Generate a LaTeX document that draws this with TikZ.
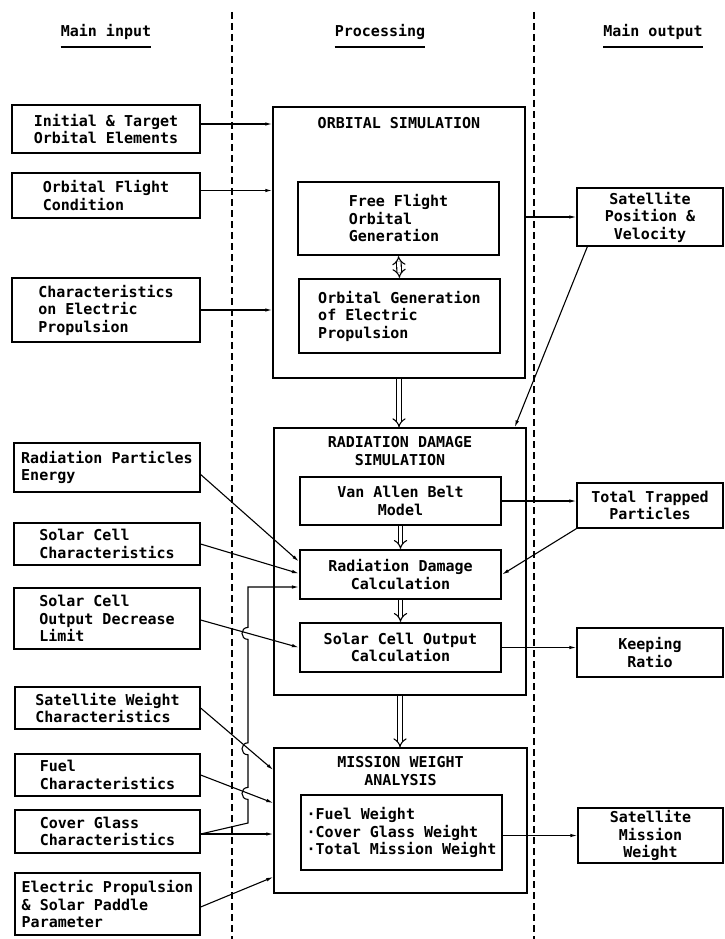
\documentclass[tikz,border=0pt]{standalone}
\usepackage{fontspec}
\setmainfont{DejaVu Sans Mono}
\usetikzlibrary{arrows.meta}
\begin{document}
\begin{tikzpicture}[x=1pt, y=-1pt,
    node font=\bfseries\fontsize{15}{17.5}\selectfont,
    inbox/.style={draw, line width=1.3pt, align=left, inner sep=0pt},
    outbox/.style={draw, line width=1.3pt, align=center, inner sep=0pt},
    procbox/.style={draw, line width=1.4pt, inner sep=0pt},
    subbox/.style={draw, line width=2.2pt, inner sep=0pt},
    flow/.style={line width=1.1pt, -{Latex[length=7pt, width=3.5pt]}},
    bigflow/.style={double, double distance=3.5pt, line width=1.1pt, -{Implies[scale=1.4]}},
    column/.style={line width=1.3pt, dash pattern=on 7pt off 4pt},
    head/.style={inner sep=0pt, anchor=base}]
\useasboundingbox (0,0) rectangle (724,939);

\draw[column] (232,12) -- (232,939);
\draw[column] (534,12) -- (534,939);

\node[head] (hin) at (106,37) {Main input};
\node[head] (hproc) at (380,37) {Processing};
\node[head] (hout) at (653,37) {Main output};
\foreach \h in {hin,hproc,hout}
  \draw[line width=2.5pt] ([yshift=-10pt]\h.base west) -- ([yshift=-10pt]\h.base east);

\node[inbox, minimum width=188, minimum height=48] (init) at (106,129) {Initial \& Target\\Orbital Elements};
\node[inbox, minimum width=188, minimum height=45] (flight) at (106,195.5) {Orbital Flight\\Condition};
\node[inbox, minimum width=188, minimum height=64] (elec) at (106,310) {Characteristics\\on Electric\\Propulsion};
\node[inbox, minimum width=186, minimum height=49] (rpe) at (107,467.5) {Radiation Particles\\Energy};
\node[inbox, minimum width=186, minimum height=42] (scc) at (107,544) {Solar Cell\\Characteristics};
\node[inbox, minimum width=186, minimum height=61] (scod) at (107,618.5) {Solar Cell\\Output Decrease\\Limit};
\node[inbox, minimum width=185, minimum height=42] (swc) at (107.5,708) {Satellite Weight\\Characteristics};
\node[inbox, minimum width=185, minimum height=42] (fuel) at (107.5,775) {Fuel\\Characteristics};
\node[inbox, minimum width=185, minimum height=43] (cgc) at (107.5,831.5) {Cover Glass\\Characteristics};
\node[inbox, minimum width=185, minimum height=62] (epp) at (107.5,904) {Electric Propulsion\\\& Solar Paddle\\Parameter};

\node[procbox, minimum width=252, minimum height=271] (orb) at (399,242.5) {};
\node (orbtitle) at (399,123) {ORBITAL SIMULATION};
\node[subbox, minimum width=201, minimum height=73, align=left] (ff) at (398.5,218.5) {Free Flight\\Orbital\\Generation};
\node[subbox, minimum width=201, minimum height=74, align=left] (og) at (399.5,316) {Orbital Generation\\of Electric\\Propulsion};

\node[procbox, minimum width=252, minimum height=267] (rad) at (400,561.5) {};
\node[align=center] (radtitle) at (400,451) {RADIATION DAMAGE\\SIMULATION};
\node[subbox, minimum width=201, minimum height=48, align=center] (van) at (400.5,501) {Van Allen Belt\\Model};
\node[subbox, minimum width=201, minimum height=49, align=center] (rdc) at (400.5,574.5) {Radiation Damage\\Calculation};
\node[subbox, minimum width=201, minimum height=49, align=center] (scoc) at (400.5,647.5) {Solar Cell Output\\Calculation};

\node[procbox, minimum width=253, minimum height=145] (mis) at (400.5,820.5) {};
\node[align=center] (mistitle) at (400.5,771) {MISSION WEIGHT\\ANALYSIS};
\node[subbox, minimum width=201, minimum height=75, align=left] (wts) at (401.5,832.5) {·Fuel Weight\\·Cover Glass Weight\\·Total Mission Weight};

\node[outbox, minimum width=146, minimum height=58] (satpos) at (650,217) {Satellite\\Position \&\\Velocity};
\node[outbox, minimum width=146, minimum height=45] (trap) at (650,505.5) {Total Trapped\\Particles};
\node[outbox, minimum width=146, minimum height=49] (keep) at (650,652.5) {Keeping\\Ratio};
\node[outbox, minimum width=145, minimum height=55] (smw) at (650.5,835.5) {Satellite\\Mission\\Weight};

\draw[flow] ([yshift=5pt]init.east) -- ([yshift=5pt]init.east -| orb.west);
\draw[flow] ([yshift=5pt]flight.east) -- ([yshift=5pt]flight.east -| orb.west);
\draw[flow] (elec.east) -- (elec.east -| orb.west);
\draw[flow] (orb.east |- satpos.west) -- (satpos.west);
\draw[flow] ([xshift=11pt]satpos.south west) -- ([xshift=-12pt]rad.north east);
\draw[bigflow, {Implies[scale=1.4]}-{Implies[scale=1.4]}] (ff.south) -- (og.north);
\draw[bigflow] (orb.south) -- (rad.north -| orb.south);
\draw[bigflow] (van.south) -- (rdc.north);
\draw[bigflow] (rdc.south) -- (scoc.north);
\draw[bigflow] (rad.south) -- (mis.north -| rad.south);

\draw[flow] ([yshift=-7pt]rpe.east) -- ([yshift=13pt]rdc.west);
\draw[flow] (scc.east) -- ([yshift=1pt]rdc.west);
\draw[flow] ([yshift=-1.5pt]scod.east) -- (scoc.west);
\draw[flow] (van.east) -- (van.east -| trap.west);
\draw[flow] (trap.south west) -- (rdc.east);
\draw[flow] (scoc.east) -- (scoc.east -| keep.west);

\draw[flow] (swc.east) -- ([yshift=50.5pt]mis.west);
\draw[flow] (fuel.east) -- ([yshift=17.5pt]mis.west);
\draw[flow] ([yshift=-2.5pt]cgc.east) -- ([yshift=-2.5pt]cgc.east -| mis.west);
\draw[flow] ([yshift=-3pt]epp.east) -- ([yshift=-56.5pt]mis.west);
\draw[flow] (wts.east |- smw.west) -- (smw.west);
\draw[flow] ([yshift=-2.5pt]cgc.east) -- (248,823)
  -- (248,799.4) .. controls (240,799.4) and (240,787.4) .. (248,787.4)
  -- (248,754.8) .. controls (240,754.8) and (240,742.8) .. (248,742.8)
  -- (248,639.4) .. controls (240,639.4) and (240,627.4) .. (248,627.4)
  -- (248,587) -- ([yshift=-12.5pt]rdc.west);
\end{tikzpicture}
\end{document}
